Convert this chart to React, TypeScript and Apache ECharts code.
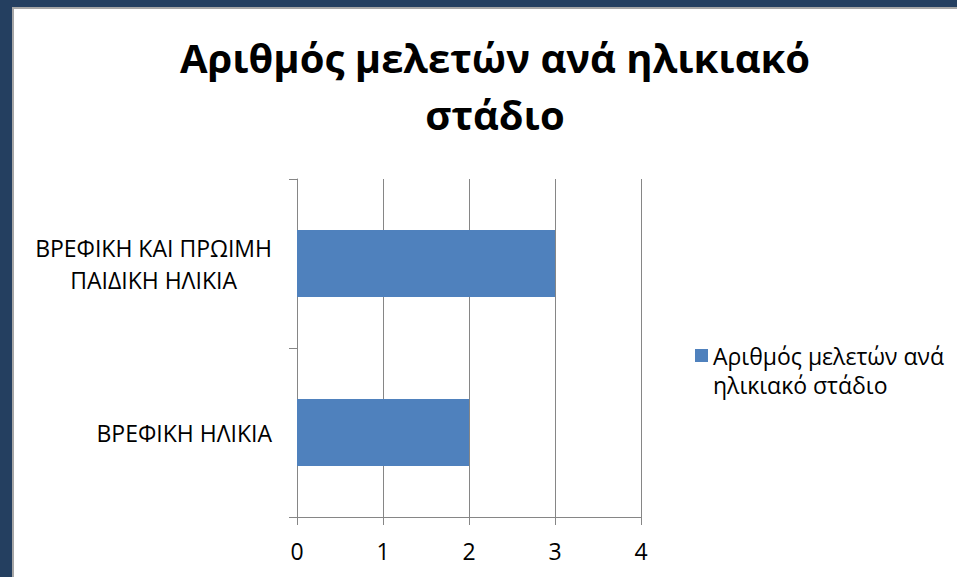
import React, { useEffect, useRef } from "react";
import * as echarts from "echarts";

const categories = ["ΒΡΕΦΙΚΗ ΗΛΙΚΙΑ", "ΒΡΕΦΙΚΗ ΚΑΙ ΠΡΩΙΜΗ\nΠΑΙΔΙΚΗ ΗΛΙΚΙΑ"];
const values = [2, 3];
const seriesName = "Αριθμός μελετών ανά ηλικιακό στάδιο";
const legendLabel = "Αριθμός μελετών ανά\nηλικιακό στάδιο";
const titleText = "Αριθμός μελετών ανά ηλικιακό\nστάδιο";

const FONT = "'Open Sans', 'Noto Sans', sans-serif";
const LABEL_SIZE = 23;

function measure(text: string): number {
  const c = document.createElement("canvas").getContext("2d")!;
  c.font = `${LABEL_SIZE}px ${FONT}`;
  return c.measureText(text).width;
}

export default function App() {
  const ref = useRef<HTMLDivElement>(null);
  useEffect(() => {
    document.body.style.margin = "0";
    const chart = echarts.init(ref.current!, undefined, { renderer: "svg" });
    const rich: Record<string, any> = {};
    const formatter = (v: string) => {
      const lines = v.split("\n");
      if (lines.length === 1) return v;
      const widths = lines.map(measure);
      const maxW = Math.max(...widths);
      return lines
        .map((l, i) => {
          const key = "l" + i;
          rich[key] = {
            fontSize: LABEL_SIZE,
            fontFamily: FONT,
            color: "#000",
            lineHeight: 32,
            padding: [0, (maxW - widths[i]) / 2, 0, 0],
          };
          return `{${key}|${l}}`;
        })
        .join("\n");
    };
    categories.forEach((c) => formatter(c));

    chart.setOption({
      animation: false,
      backgroundColor: "#243F60",
      graphic: [
        {
          type: "rect",
          z: -10,
          shape: { x: 13, y: 8, width: 960, height: 590 },
          style: { fill: "#fff", stroke: "#A6A6A6", lineWidth: 2 },
        },
      ],
      title: {
        text: titleText,
        left: 490,
        top: 24,
        textAlign: "center",
        textStyle: {
          fontFamily: FONT,
          fontWeight: "bold",
          fontSize: 40,
          lineHeight: 57,
          color: "#000",
        },
      },
      legend: {
        data: [seriesName],
        orient: "vertical",
        left: 690,
        top: 336,
        itemWidth: 13,
        itemHeight: 42,
        icon: "path://M0 0H13V13H0ZM0 42H0.001V42H0Z",
        formatter: () => legendLabel,
        textStyle: {
          fontFamily: FONT,
          fontSize: LABEL_SIZE,
          color: "#000",
          lineHeight: 29,
        },
      },
      grid: { left: 297, right: 316, top: 179, bottom: 60 },
      xAxis: {
        type: "value",
        min: 0,
        max: 4,
        interval: 1,
        axisLine: { show: true, lineStyle: { color: "#868686", width: 1 } },
        axisTick: { show: true, length: 8, lineStyle: { color: "#868686" } },
        splitLine: { show: true, lineStyle: { color: "#868686", width: 1 } },
        axisLabel: {
          fontFamily: FONT,
          fontSize: LABEL_SIZE,
          color: "#000",
          margin: 22,
        },
      },
      yAxis: {
        type: "category",
        data: categories,
        axisLine: { show: true, lineStyle: { color: "#868686", width: 1 } },
        axisTick: { show: true, length: 8, lineStyle: { color: "#868686" } },
        axisLabel: {
          fontFamily: FONT,
          fontSize: LABEL_SIZE,
          color: "#000",
          margin: 25,
          align: "right",
          lineHeight: 32,
          formatter,
          rich,
        },
      },
      series: [
        {
          name: seriesName,
          type: "bar",
          data: values,
          barWidth: 67,
          itemStyle: { color: "#4F81BD" },
        },
      ],
    });
    return () => chart.dispose();
  }, []);
  return (
    <div
      ref={ref}
      style={{ position: "fixed", left: 0, top: 0, width: 957, height: 577 }}
    />
  );
}
